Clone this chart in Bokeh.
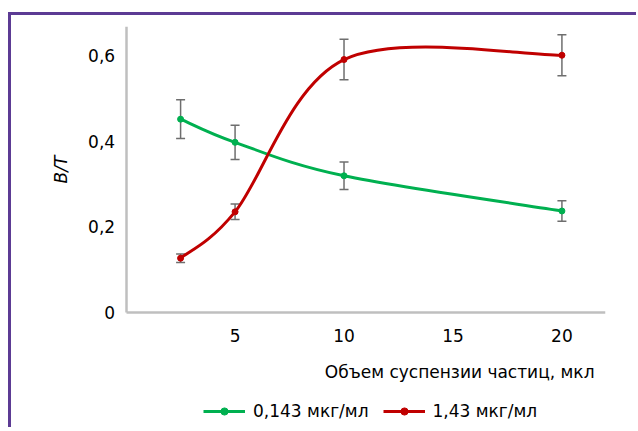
import numpy as np
from bokeh.plotting import figure
from bokeh.layouts import column, row
from bokeh.models import (ColumnDataSource, Whisker, TeeHead, FixedTicker, Legend,
                          LegendItem, Label, Range1d, Spacer, LinearAxis)
from bokeh.embed import file_html
from bokeh.resources import INLINE

# ---- data ----
x_vals = [2.5, 5, 10, 20]
y_low_conc = [0.451, 0.397, 0.319, 0.237]     # 0,143 мкг/мл
err_low_conc = [0.045, 0.040, 0.032, 0.024]
y_high_conc = [0.127, 0.235, 0.590, 0.600]    # 1,43 мкг/мл
err_high_conc = [0.010, 0.018, 0.047, 0.048]
series_labels = ["0,143 мкг/мл", "1,43 мкг/мл"]
x_ticks = [5, 10, 15, 20]
y_ticks = [0, 0.2, 0.4, 0.6]
y_tick_labels = ["0", "0,2", "0,4", "0,6"]
x_title = "Объем суспензии частиц, мкл"
y_title = "B/T"

X_MAX = 22
Y_MAX = 0.667
X_LEFT = -5.26    # room left of the y axis for tick labels and axis title
Y_BELOW = -0.27   # room under the x axis for the axis title and legend

GREEN = "#00b050"
RED = "#c00000"
GRAY = "#bfbfbf"
ERR = "#6e6e6e"
PURPLE = "#5c3b94"
FONT = "DejaVu Sans"
FS = "17px"


def bezier_segments(xs, ys):
    """Catmull-Rom style control points (Excel-like smoothing)."""
    xs = np.asarray(xs, float)
    ys = np.asarray(ys, float)
    n = len(xs)
    px = np.concatenate([[xs[0]], xs, [xs[-1]]])
    py = np.concatenate([[ys[0]], ys, [ys[-1]]])
    return dict(
        x0=xs[:-1], y0=ys[:-1], x1=xs[1:], y1=ys[1:],
        cx0=px[1:n] + (px[2:n + 1] - px[0:n - 1]) / 6.0,
        cy0=py[1:n] + (py[2:n + 1] - py[0:n - 1]) / 6.0,
        cx1=px[2:n + 1] - (px[3:n + 2] - px[1:n]) / 6.0,
        cy1=py[2:n + 1] - (py[3:n + 2] - py[1:n]) / 6.0,
    )


p = figure(frame_width=591, frame_height=399,
           x_range=Range1d(X_LEFT, X_MAX), y_range=Range1d(Y_BELOW, Y_MAX),
           output_backend="svg", toolbar_location=None,
           x_axis_location=None, y_axis_location=None,
           min_border_left=0, min_border_right=34,
           min_border_top=11, min_border_bottom=2)
p.styles = {"border-left": f"3px solid {PURPLE}", "border-top": f"3px solid {PURPLE}"}
p.grid.visible = False
p.outline_line_color = None
p.background_fill_color = "white"

xaxis = LinearAxis(fixed_location=0, ticker=FixedTicker(ticks=x_ticks), bounds=(0, X_MAX))
yaxis = LinearAxis(fixed_location=0, ticker=FixedTicker(ticks=y_ticks), bounds=(0, Y_MAX))
p.add_layout(xaxis, "below")
p.add_layout(yaxis, "left")

for ax in (xaxis, yaxis):
    ax.axis_line_color = GRAY
    ax.axis_line_width = 2.5
    ax.major_tick_line_color = None
    ax.minor_tick_line_color = None
    ax.major_tick_out = 0
    ax.major_tick_in = 0
    ax.minor_tick_out = 0
    ax.minor_tick_in = 0
    ax.major_label_text_font = FONT
    ax.major_label_text_font_size = FS
    ax.major_label_text_color = "black"

xaxis.major_label_standoff = 16
yaxis.major_label_overrides = {t: l for t, l in zip(y_ticks, y_tick_labels)}
yaxis.major_label_standoff = 11

items = []
for ys, errs, color, label in ((y_low_conc, err_low_conc, GREEN, series_labels[0]),
                               (y_high_conc, err_high_conc, RED, series_labels[1])):
    ys_a = np.asarray(ys)
    es_a = np.asarray(errs)
    wsrc = ColumnDataSource(dict(x=x_vals, upper=ys_a + es_a, lower=ys_a - es_a))
    w = Whisker(source=wsrc, base="x", upper="upper", lower="lower",
                line_color=ERR, line_width=1.5,
                upper_head=TeeHead(size=9, line_color=ERR, line_width=1.5),
                lower_head=TeeHead(size=9, line_color=ERR, line_width=1.5))
    p.add_layout(w)
    bsrc = ColumnDataSource(bezier_segments(x_vals, ys))
    br = p.bezier(x0="x0", y0="y0", x1="x1", y1="y1", cx0="cx0", cy0="cy0",
                  cx1="cx1", cy1="cy1", source=bsrc, line_color=color, line_width=3)
    sr = p.scatter(x_vals, ys, size=6, color=color)
    items.append(LegendItem(label=label, renderers=[br, sr]))

# x axis title, right-aligned near the end of the x axis
p.add_layout(Label(x=X_MAX, y=0, x_offset=-11, y_offset=-59, text=x_title,
                   text_align="right", text_baseline="middle",
                   text_font=FONT, text_font_size=FS, text_color="black"))

# y axis title, rotated, centred on the value axis
p.add_layout(Label(x=0, y=Y_MAX / 2, x_offset=-65, text=y_title, angle=np.pi / 2,
                   text_align="center", text_baseline="middle",
                   text_font=FONT, text_font_size=FS, text_font_style="italic",
                   text_color="black"))

legend = Legend(items=items, orientation="horizontal", location=(192, 7),
                glyph_width=42, glyph_height=18, label_height=18,
                label_standoff=8, spacing=14, padding=0, margin=0,
                border_line_color=None, background_fill_alpha=0,
                label_text_font=FONT, label_text_font_size=FS,
                label_text_color="black")
p.add_layout(legend)

layout = column(Spacer(height=12), row(Spacer(width=8), p))
open("out.html", "w").write(file_html(layout, INLINE))
